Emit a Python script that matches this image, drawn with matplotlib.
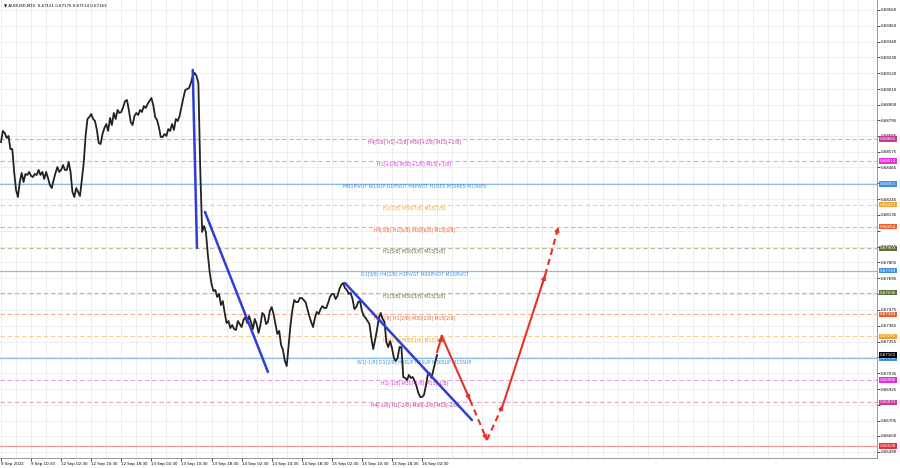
import numpy as np
import matplotlib.pyplot as plt

# AUDUSD M15, one close every 2 bars (30 min), 9 Sep 02:30 -> 16 Sep 05:00
close = [0.68642, 0.68719, 0.68705, 0.68670, 0.68684, 0.68593, 0.68593, 0.68434, 0.68309, 0.68260,
         0.68364, 0.68427, 0.68364, 0.68420, 0.68413, 0.68434, 0.68406, 0.68399, 0.68420, 0.68413,
         0.68448, 0.68413, 0.68434, 0.68385, 0.68434, 0.68392, 0.68343, 0.68322, 0.68378, 0.68427,
         0.68468, 0.68434, 0.68448, 0.68482, 0.68448, 0.68448, 0.68503, 0.68434, 0.68295, 0.68260,
         0.68322, 0.68295, 0.68267, 0.68378, 0.68496, 0.68684, 0.68802, 0.68816, 0.68837, 0.68802,
         0.68788, 0.68726, 0.68635, 0.68628, 0.68698, 0.68739, 0.68767, 0.68719, 0.68809, 0.68760,
         0.68844, 0.68802, 0.68865, 0.68844, 0.68851, 0.68885, 0.68927, 0.68934, 0.68865, 0.68781,
         0.68760, 0.68823, 0.68844, 0.68830, 0.68865, 0.68851, 0.68892, 0.68878, 0.68906, 0.68927,
         0.68948, 0.68899, 0.68816, 0.68795, 0.68746, 0.68677, 0.68677, 0.68698, 0.68684, 0.68732,
         0.68719, 0.68767, 0.68726, 0.68802, 0.68788, 0.68823, 0.68885, 0.68948, 0.69004, 0.69010,
         0.69017, 0.69052, 0.69101, 0.69122, 0.69101, 0.69052, 0.68448, 0.68017, 0.68058, 0.68017,
         0.67864, 0.67739, 0.67655, 0.67607, 0.67614, 0.67565, 0.67586, 0.67509, 0.67537, 0.67454,
         0.67384, 0.67398, 0.67349, 0.67370, 0.67342, 0.67336, 0.67398, 0.67377, 0.67356, 0.67405,
         0.67426, 0.67384, 0.67433, 0.67391, 0.67342, 0.67412, 0.67377, 0.67315, 0.67370, 0.67454,
         0.67440, 0.67377, 0.67391, 0.67468, 0.67495, 0.67447, 0.67377, 0.67308, 0.67329, 0.67231,
         0.67197, 0.67120, 0.67085, 0.67231, 0.67370, 0.67475, 0.67544, 0.67530, 0.67530, 0.67558,
         0.67558, 0.67544, 0.67530, 0.67481, 0.67433, 0.67391, 0.67356, 0.67419, 0.67461, 0.67447,
         0.67481, 0.67502, 0.67488, 0.67488, 0.67523, 0.67565, 0.67586, 0.67586, 0.67551, 0.67572,
         0.67620, 0.67648, 0.67662, 0.67627, 0.67614, 0.67586, 0.67593, 0.67551, 0.67481, 0.67495,
         0.67530, 0.67537, 0.67468, 0.67433, 0.67419, 0.67398, 0.67377, 0.67280, 0.67203, 0.67266,
         0.67336, 0.67419, 0.67454, 0.67412, 0.67391, 0.67252, 0.67217, 0.67259, 0.67210, 0.67141,
         0.67120, 0.67141, 0.67217, 0.67217, 0.67009, 0.67002, 0.66988, 0.67023, 0.67002, 0.67009,
         0.66981, 0.66946, 0.66898, 0.66870, 0.66870, 0.66884, 0.66946, 0.67023, 0.67037, 0.67002,
         0.67058, 0.67113, 0.67162]
bars = np.arange(len(close)) * 2

header = "AUDUSD,M15  0.67121 0.67175 0.67114 0.67163"
last_price = 0.67163

date_labels = ["9 Sep 2022", "9 Sep 10:30", "12 Sep 02:30", "12 Sep 10:30", "12 Sep 18:30",
               "13 Sep 02:30", "13 Sep 10:30", "13 Sep 18:30", "14 Sep 02:30", "14 Sep 10:30",
               "14 Sep 18:30", "15 Sep 02:30", "15 Sep 10:30", "15 Sep 18:30", "16 Sep 02:30"]
date_bars = np.arange(len(date_labels)) * 32

price_ticks = [0.69560, 0.69450, 0.69340, 0.69230, 0.69120, 0.69010, 0.68900, 0.68795, 0.68685,
               0.68575, 0.68465, 0.68355, 0.68245, 0.68135, 0.68025, 0.67915, 0.67805, 0.67695,
               0.67585, 0.67475, 0.67365, 0.67255, 0.67145, 0.67035, 0.66925, 0.66815, 0.66705,
               0.66600, 0.66490]
# ticks hidden behind the level boxes on the price scale
ticks_caches = [0.68355, 0.68025, 0.67585, 0.67145, 0.66815]

# murrey / pivot levels
niveaux = [0.68665, 0.68512, 0.68351, 0.68207, 0.68054, 0.67903, 0.67749,
           0.67596, 0.67444, 0.67291, 0.67138, 0.66986, 0.66833, 0.66528]
textes = ["H4[5/8] H1[+2/8] M30[+2/8] M15[+2/8]",
          "H1[+1/8] M30[+1/8] M15[+1/8]",
          "MN1PIVOT W1SUP D1PIVOT H4PIVOT H1RES M30RES M15RES",
          "H1[7/8] M30[7/8] M15[7/8]",
          "H4[3/8] H1[6/8] M30[6/8] M15[6/8]",
          "H1[5/8] M30[5/8] M15[5/8]",
          "D1[3/8] H4[2/8] H1PIVOT M30PIVOT M15PIVOT",
          "H1[3/8] M30[3/8] M15[3/8]",
          "H4[2/8] H1[2/8] M30[2/8] M15[2/8]",
          "H1[1/8] M30[1/8] M15[1/8]",
          "W1[-1/8] D1[2/8] H4SUP H1SUP M30SUP M15SUP",
          "H1[-1/8] M30[-1/8] M15[-1/8]",
          "H4[-1/8] H1[-2/8] M30[-2/8] M15[-2/8]",
          ""]
couleurs = ["#c8389a", "#e030e0", "#3d8fe0", "#f2a22a", "#e8622e", "#5f7038", "#3d8fe0",
            "#5f7038", "#e8622e", "#f2a22a", "#3d8fe0", "#e030e0", "#c8389a", "#e8303a"]
couleurs_ligne = ["#d9a6c8", "#e9a0e9", "#8cbbe8", "#f3cf94", "#eeae90", "#b4bc98", "#8cbbe8",
                  "#b4bc98", "#eeae90", "#f3cf94", "#8cbbe8", "#e9a0e9", "#d9a6c8", "#ee9a9a"]
pleines = [False, False, True, False, False, False, True,
           False, False, False, True, False, False, True]

# trend lines
trend_bars = [[204, 208.5], [217, 284], [366, 501]]
trend_prices = [[0.69143, 0.67905], [0.68156, 0.67044], [0.67662, 0.66710]]

# forecast zigzag
prev_bars = [464, 469, 499, 517, 534, 579, 593]
prev_prices = [0.67183, 0.67294, 0.66849, 0.66571, 0.66814, 0.67718, 0.68051]
prev_dashed = [False, False, True, True, False, True]

rouge = "#e8302a"
bleu = "#2f3fd0"

fig = plt.figure(figsize=(9, 4.68), dpi=100)
ax = fig.add_axes([0, 10 / 468, 877 / 900, 458 / 468])
ax.set_xlim(-1.06, 932)
ax.set_ylim(0.66446, 0.69629)

# grid
for xg in np.arange(0, 940, 16):
    ax.axvline(xg, color="#ebebeb", lw=0.6, zorder=0)
for yg in price_ticks:
    ax.axhline(yg, color="#ebebeb", lw=0.6, zorder=0)

# levels
for niv, txt, c, cl, plein in zip(niveaux, textes, couleurs, couleurs_ligne, pleines):
    if plein:
        ax.axhline(niv, color=cl, lw=0.9, zorder=1)
    else:
        ax.axhline(niv, color=cl, lw=0.8, dashes=(4, 2.5), zorder=1)
    if txt:
        ax.text(440, niv - 0.00003, txt, ha="center", va="top", fontsize=3.3, color=c, zorder=2)
    ax.text(1.003, niv, f"{niv:.5f}", transform=ax.get_yaxis_transform(), ha="left", va="center",
            fontsize=2.9, color="white", zorder=5,
            bbox=dict(boxstyle="square,pad=0.2", fc=c, ec="none"))

ax.text(1.003, last_price, f"{last_price:.5f}", transform=ax.get_yaxis_transform(), ha="left",
        va="center", fontsize=2.9, color="white", zorder=6,
        bbox=dict(boxstyle="square,pad=0.2", fc="black", ec="none"))

# price
ax.plot(bars, close, color="#222222", lw=1.3, zorder=3)

for tb, tp in zip(trend_bars, trend_prices):
    ax.plot(tb, tp, color=bleu, lw=1.8, zorder=4, solid_capstyle="round")

# forecast arrows
for i in range(len(prev_bars) - 1):
    x0, x1 = prev_bars[i], prev_bars[i + 1]
    y0, y1 = prev_prices[i], prev_prices[i + 1]
    ax.plot([x0, x1], [y0, y1], color=rouge, lw=1.5, zorder=4,
            ls=(0, (3, 2)) if prev_dashed[i] else "-")
    ax.annotate("", xy=(x1, y1), xytext=(x1 - 0.08 * (x1 - x0), y1 - 0.08 * (y1 - y0)),
                arrowprops=dict(arrowstyle="-|>", color=rouge, lw=1.2, mutation_scale=6,
                                shrinkA=0, shrinkB=0), zorder=4)

# header
ax.text(0.004, 0.992, "\u25bc " + header, transform=ax.transAxes, ha="left", va="top",
        fontsize=2.9, color="black")

# axes
ax.yaxis.tick_right()
ax.set_yticks(price_ticks)
ax.set_yticklabels(["" if v in ticks_caches else f"{v:.5f}" for v in price_ticks])
ax.set_xticks(date_bars)
ax.set_xticklabels(date_labels, ha="left")
ax.tick_params(axis="y", labelsize=2.9, length=2, width=0.5, pad=1, colors="black")
ax.tick_params(axis="x", labelsize=2.9, length=2, width=0.5, pad=1, colors="black")
for s in ["left", "top"]:
    ax.spines[s].set_visible(False)
for s in ["right", "bottom"]:
    ax.spines[s].set_color("#888888")
    ax.spines[s].set_linewidth(0.6)

fig.savefig("out.png", dpi=100)
